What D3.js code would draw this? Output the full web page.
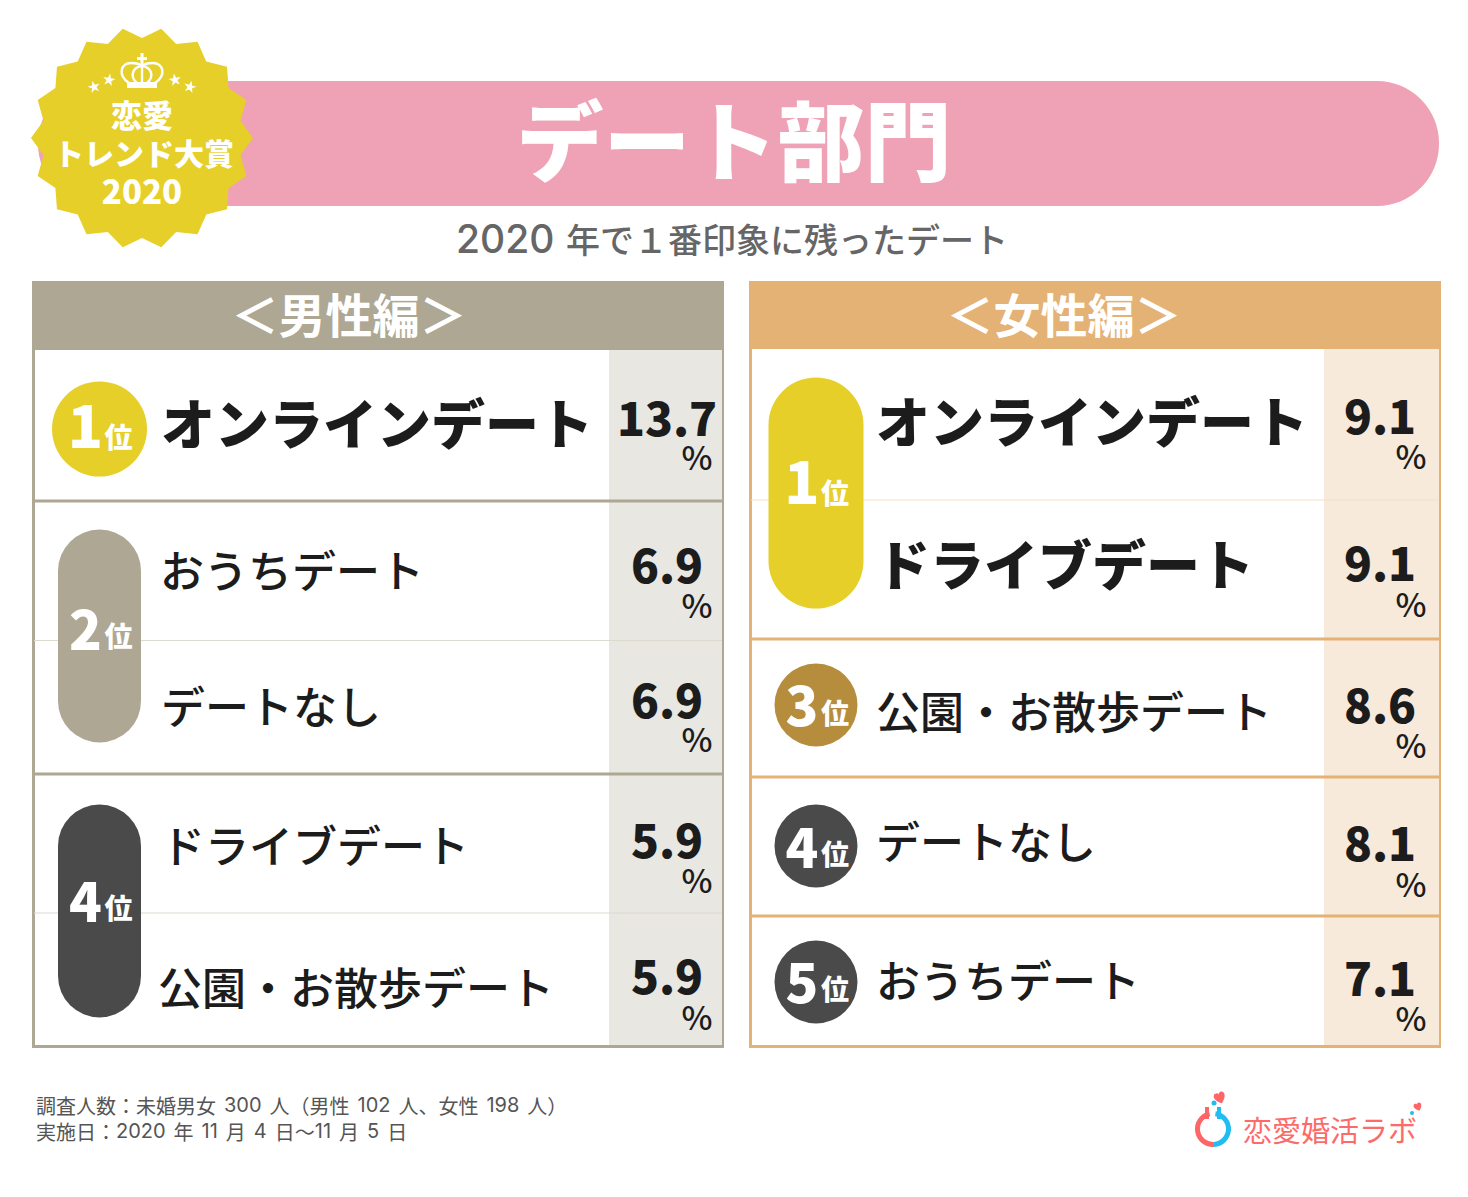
<!DOCTYPE html>
<html lang="ja">
<head>
<meta charset="utf-8">
<script src="https://cdn.jsdelivr.net/npm/d3@7"></script>
<style>
  html, body { margin: 0; padding: 0; background: #fff; }
  svg { display: block; }
  text { font-family: "Noto Sans CJK JP", "Noto Sans", sans-serif; }
  tspan.num { font-family: "Inter", "Liberation Sans", sans-serif; }
</style>
</head>
<body>
<div id="chart"></div>
<script>
const menLabels = ["オンラインデート", "おうちデート", "デートなし", "ドライブデート", "公園・お散歩デート"]
const menValues = [13.7, 6.9, 6.9, 5.9, 5.9]
const menRanks = [1, 2, 4]

const womenLabels = ["オンラインデート", "ドライブデート", "公園・お散歩デート", "デートなし", "おうちデート"]
const womenValues = [9.1, 9.1, 8.6, 8.1, 7.1]
const womenRanks = [1, 3, 4, 5]

const title = "デート部門"
const subtitle = "2020 年で１番印象に残ったデート"
const footnotes = ["調査人数：未婚男女 300 人（男性 102 人、女性 198 人）", "実施日：2020 年 11 月 4 日〜11 月 5 日"]
const sealLines = ["恋愛", "トレンド大賞", "2020"]

const yellow = "#e6cf29", taupe = "#aea793", orange = "#e4b275", dark = "#4a4a4a", bronze = "#b68d3d"

const svg = d3.select("#chart").append("svg").attr("width", 1468).attr("height", 1197)
svg.append("rect").attr("width", 1468).attr("height", 1197).attr("fill", "#fff")

function txt(parent, s, x, y, size, weight, fill, anchor) {
  return parent.append("text")
    .attr("x", x).attr("y", y)
    .attr("font-size", size).attr("font-weight", weight)
    .attr("fill", fill)
    .attr("text-anchor", anchor || "middle")
    .attr("dominant-baseline", "central")
    .text(s)
}

// digits are in a latin face in the reference, so split them out
function mixed(t, s, numSize) {
  t.text(null)
  s.split(/([0-9]+)/).forEach(part => {
    if (!part) return
    const span = t.append("tspan").text(part)
    if (/^[0-9]+$/.test(part)) span.attr("class", "num").attr("font-size", numSize)
  })
  return t
}

// banner
svg.append("rect").attr("x", 38).attr("y", 81).attr("width", 1401).attr("height", 125).attr("rx", 62).attr("fill", "#efa1b6")
txt(svg, title, 734, 137, 87, 900, "#fff")
mixed(txt(svg, subtitle, 732, 238, 34, 500, "#666666"), subtitle, 39).attr("word-spacing", 4)

// seal
const sealPts = d3.range(36).map(i => d3.pointRadial((i + 1) * Math.PI / 18, i % 2 ? 100 : 111))
const seal = svg.append("g").attr("transform", "translate(142,138)")
seal.append("path").attr("d", d3.line()(sealPts) + "Z").attr("fill", yellow)
// crown
const crown = seal.append("g").attr("fill", "none").attr("stroke", "#fff").attr("stroke-width", 2.4)
crown.append("path").attr("d", "M-13,-55C-25,-63,-21,-75,-11,-75C-6,-75,-2,-74,0,-72C2,-74,6,-75,11,-75C21,-75,25,-63,13,-55")
crown.append("path").attr("d", "M-5,-55C-13,-62,-9,-71,0,-72C9,-71,13,-62,5,-55")
crown.append("path").attr("d", "M0,-72V-55")
seal.append("rect").attr("x", -15).attr("y", -56).attr("width", 30).attr("height", 6).attr("fill", "#fff")
seal.append("rect").attr("x", -1.5).attr("y", -85).attr("width", 3).attr("height", 12).attr("fill", "#fff")
seal.append("rect").attr("x", -5).attr("y", -81).attr("width", 10).attr("height", 3).attr("fill", "#fff")
const starPos = [[-48, -51, -15], [-33, -58, 10], [33, -58, -10], [48, -51, 15]]
seal.selectAll(".star").data(starPos).join("path")
  .attr("class", "star")
  .attr("d", d3.symbol(d3.symbolStar, 48))
  .attr("fill", "#fff")
  .attr("transform", d => `translate(${d[0]},${d[1]}) rotate(${d[2]})`)
txt(seal, sealLines[0], 0, -25, 31, 900, "#fff")
txt(seal, sealLines[1], 2, 14, 30, 900, "#fff")
txt(seal, sealLines[2], 0, 52, 33, 900, "#fff")

function panel(o) {
  const g = svg.append("g")
  const idx = d3.range(o.labels.length)
  const y = d3.scaleOrdinal().domain(idx).range(o.rowY)
  const valY = d3.scaleOrdinal().domain(idx).range(o.valY)
  const pctY = d3.scaleOrdinal().domain(idx).range(o.pctY)
  const fmt = d3.format(".1f")

  g.append("rect").attr("x", o.x + 1.5).attr("y", 282.5).attr("width", 689).attr("height", 764)
    .attr("fill", "#fff").attr("stroke", o.color).attr("stroke-width", 3)
  g.append("rect").attr("x", o.pctX).attr("y", o.headBottom).attr("width", o.x + 690 - o.pctX).attr("height", 1045 - o.headBottom)
    .attr("fill", o.pctFill)
  g.append("rect").attr("x", o.x).attr("y", 281).attr("width", 692).attr("height", o.headBottom - 281).attr("fill", o.color)
  txt(g, o.head, o.headX, 312, 47, 700, "#fff")

  g.selectAll(".sep").data(o.seps).join("line")
    .attr("class", "sep")
    .attr("x1", o.x + 2).attr("x2", o.x + 690)
    .attr("y1", d => d[0]).attr("y2", d => d[0])
    .attr("stroke", d => d[1] ? o.color : o.thin)
    .attr("stroke-width", d => d[1] ? 3 : 1)

  g.selectAll(".lab").data(o.labels).join("text")
    .attr("class", "lab")
    .attr("x", (d, i) => o.labelX[i])
    .attr("y", (d, i) => y(i))
    .attr("dominant-baseline", "central")
    .attr("font-size", (d, i) => o.boldRows.includes(i) ? 54 : 44)
    .attr("font-weight", (d, i) => o.boldRows.includes(i) ? 900 : 500)
    .attr("fill", "#1c1c1c")
    .text(d => d)

  g.selectAll(".val").data(o.values).join("text")
    .attr("class", "val")
    .attr("x", o.valX)
    .attr("y", (d, i) => valY(i))
    .attr("text-anchor", "middle")
    .attr("dominant-baseline", "central")
    .attr("font-size", 46)
    .attr("font-weight", 900)
    .attr("fill", "#1c1c1c")
    .text(fmt)

  g.selectAll(".pct").data(o.values).join("text")
    .attr("class", "pct")
    .attr("x", o.pctTextX)
    .attr("y", (d, i) => pctY(i))
    .attr("text-anchor", "middle")
    .attr("dominant-baseline", "central")
    .attr("font-size", 33)
    .attr("font-weight", 500)
    .attr("fill", "#1c1c1c")
    .text("%")

  o.ranks.forEach((r, i) => {
    const b = o.badges[i]
    const w = b.w, h = b.h
    g.append("rect").attr("x", b.cx - w / 2).attr("y", b.cy - h / 2).attr("width", w).attr("height", h)
      .attr("rx", w / 2).attr("fill", b.fill)
    txt(g, r, b.cx - 14, b.numY, b.big, 900, "#fff")
    txt(g, "位", b.cx + 19, b.unitY, b.small, 900, "#fff")
  })
}

panel({
  x: 32, head: "＜男性編＞", headX: 349, headBottom: 350, color: taupe, thin: "#dcd9cf",
  pctX: 609, pctFill: "#e8e7e2", valX: 667, pctTextX: 697,
  labels: menLabels, values: menValues, ranks: menRanks,
  rowY: [421, 569, 705, 844, 986], labelX: [161, 160, 161, 161, 158], boldRows: [0],
  valY: [416, 563, 698, 838, 974], pctY: [456, 604, 738, 879, 1016],
  seps: [[501, 1], [640.5, 0], [774, 1], [913, 0]],
  badges: [
    { cx: 99.5, cy: 429, w: 95, h: 95, fill: yellow, big: 58, small: 28, numY: 423, unitY: 436 },
    { cx: 99.5, cy: 636, w: 83, h: 213, fill: taupe, big: 54, small: 28, numY: 626, unitY: 635 },
    { cx: 99.5, cy: 911, w: 83, h: 213, fill: dark, big: 54, small: 28, numY: 898, unitY: 907 }
  ]
})

panel({
  x: 749, head: "＜女性編＞", headX: 1064, headBottom: 349, color: orange, thin: "#f3dfc6",
  pctX: 1324, pctFill: "#f7eadb", valX: 1380, pctTextX: 1411,
  labels: womenLabels, values: womenValues, ranks: womenRanks,
  rowY: [419, 562, 710, 840, 979], labelX: [876, 876, 876, 876, 876], boldRows: [0, 1],
  valY: [414, 561, 703, 841, 976], pctY: [455, 603, 744, 883, 1017],
  seps: [[500, 0], [639, 1], [777, 1], [916, 1]],
  badges: [
    { cx: 816, cy: 493, w: 95, h: 231, fill: yellow, big: 58, small: 28, numY: 479, unitY: 492 },
    { cx: 816, cy: 705, w: 83, h: 83, fill: bronze, big: 54, small: 28, numY: 702, unitY: 712 },
    { cx: 816, cy: 846, w: 83, h: 83, fill: dark, big: 54, small: 28, numY: 844, unitY: 853 },
    { cx: 816, cy: 982, w: 83, h: 83, fill: dark, big: 54, small: 28, numY: 979, unitY: 988 }
  ]
})

// footnote
footnotes.forEach((s, i) => {
  mixed(txt(svg, s, 36, 1105 + i * 26, 20, 400, "#555555", "start"), s, 20).attr("word-spacing", 3.5)
})

// logo
const logo = svg.append("g").attr("transform", "translate(1213,1129)")
const ring = d3.arc().innerRadius(13).outerRadius(18)
logo.append("path").attr("d", ring({ startAngle: Math.PI * 0.98, endAngle: Math.PI * 1.93 })).attr("fill", "#fd6566")
logo.append("path").attr("d", ring({ startAngle: Math.PI * 0.05, endAngle: Math.PI * 0.98 })).attr("fill", "#1fbdf0")
logo.append("rect").attr("x", -8).attr("y", -22).attr("width", 4).attr("height", 12).attr("fill", "#fd6566")
logo.append("rect").attr("x", 4).attr("y", -22).attr("width", 4).attr("height", 12).attr("fill", "#1fbdf0")
logo.append("circle").attr("cx", 1).attr("cy", -26).attr("r", 2.5).attr("fill", "#1fbdf0")
const hearts = [[7, -31, 7], [205, -22, 5]]
logo.selectAll(".heart").data(hearts).join("path")
  .attr("class", "heart")
  .attr("transform", d => `translate(${d[0]},${d[1]}) scale(${d[2] / 10}) rotate(-20)`)
  .attr("d", "M0,8C-12,-1,-8,-9,-3,-8C-1,-8,0,-6,0,-5C0,-6,1,-8,3,-8C8,-9,12,-1,0,8Z")
  .attr("fill", "#fd6566")
logo.append("circle").attr("cx", 199).attr("cy", -16).attr("r", 2).attr("fill", "#1fbdf0")
txt(svg, "恋愛婚活ラボ", 1243, 1129, 29, 400, "#fd6a6a", "start")
</script>
</body>
</html>
